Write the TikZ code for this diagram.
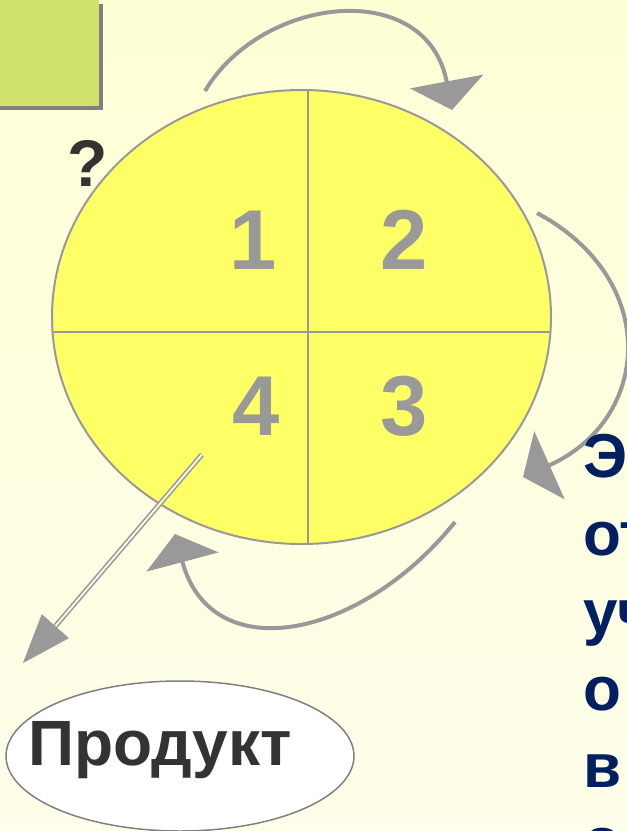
\documentclass[tikz,border=0pt]{standalone}
\usepackage{fontspec}
\setmainfont{Liberation Sans}
\usetikzlibrary{shapes.geometric,arrows.meta}
\definecolor{bgtop}{HTML}{FFFFD6}
\definecolor{bgbot}{HTML}{FEFEEA}
\definecolor{boxgreen}{HTML}{D0E26C}
\definecolor{shadowgray}{HTML}{808080}
\definecolor{cycyellow}{HTML}{FFFF66}
\definecolor{linegray}{HTML}{999999}
\definecolor{darktext}{HTML}{333333}
\definecolor{navytext}{HTML}{002060}
\definecolor{gapcolor}{HTML}{FFFFE8}
\tikzset{
  cyclearc/.style={draw=linegray, line width=4pt, -{Triangle[width=74pt,length=29pt]}, fill=none},
  digit/.style={anchor=base, inner sep=0pt, text=linegray, font=\fontsize{85}{90}\selectfont\bfseries},
  sidetext/.style={anchor=base west, inner sep=0pt, text=navytext, font=\fontsize{62}{70}\selectfont\bfseries},
}
\begin{document}
\begin{tikzpicture}[x=1pt,y=-1pt]
\useasboundingbox (0,0) rectangle (627,831);
\clip (0,0) rectangle (627,831);
\shade[top color=bgtop, bottom color=bgbot] (0,0) rectangle (627,831);
% green box with shadow
\fill[shadowgray] (-5,4) rectangle (103,110);
\fill[boxgreen] (-5,-5) rectangle (99,106);
% cycle ellipse
\node[draw=linegray, line width=2pt, fill=cycyellow, ellipse, inner sep=0pt,
      minimum width=499pt, minimum height=454pt] (cyc) at (301.5,317) {};
\coordinate (vtop) at (308,90.1);
\coordinate (vbot) at (308,543.9);
\coordinate (hl) at (52.6,332);
\coordinate (hr) at (550.4,332);
\draw[linegray, line width=2pt] (vtop) -- (vbot);
\draw[linegray, line width=2pt] (hl) -- (hr);
% digits
\node[digit] (n1) at (253,269) {1};
\node[digit] (n2) at (404,269) {2};
\node[digit] (n4) at (256,435) {4};
\node[digit] (n3) at (404,435) {3};
% question mark
\node[anchor=base, inner sep=0pt, text=darktext, font=\fontsize{66}{70}\selectfont\bfseries] (q) at (88,186) {?};
% curved arrows
\coordinate (a1s) at (205,91);
\coordinate (a1e) at (452,110);
\draw[cyclearc] (a1s) .. controls (262,-5) and (427,-23) .. (a1e);
\coordinate (a2s) at (537,213);
\coordinate (a2e) at (523,477);
\draw[cyclearc] (a2s) .. controls (662,280) and (651,420) .. (a2e);
\coordinate (a3s) at (455,522);
\coordinate (a3e) at (175,534);
\draw[cyclearc] (a3s) .. controls (360,640) and (211,669) .. (a3e);
% product
\node[draw=shadowgray, line width=1.5pt, fill=white, ellipse, inner sep=0pt,
      minimum width=348pt, minimum height=150pt] (pe) at (180,756) {};
\node[anchor=base, inner sep=0pt, text=darktext, font=\fontsize{64}{70}\selectfont\bfseries] (prod) at (160,765) {Продукт};
% double arrow to product
\coordinate (ds) at (202,454.5);
\coordinate (db) at (55.5,626);
\coordinate (dt) at (23,663);
\draw[linegray, line width=1.6pt, double=gapcolor, double distance=1.8pt] (ds) -- (db);
\draw[linegray, line width=0.5pt, -{Triangle[width=36pt,length=49pt]}] (db) -- (dt);
% side text (cut off)
\node[sidetext] (t1) at (583,477) {Э};
\node[sidetext] (t2) at (583,555) {от};
\node[sidetext] (t3) at (583,633) {уч};
\node[sidetext] (t4) at (583,710) {о};
\node[sidetext] (t5) at (583,787) {в};
\node[sidetext] (t6) at (583,861) {о};
\end{tikzpicture}
\end{document}
